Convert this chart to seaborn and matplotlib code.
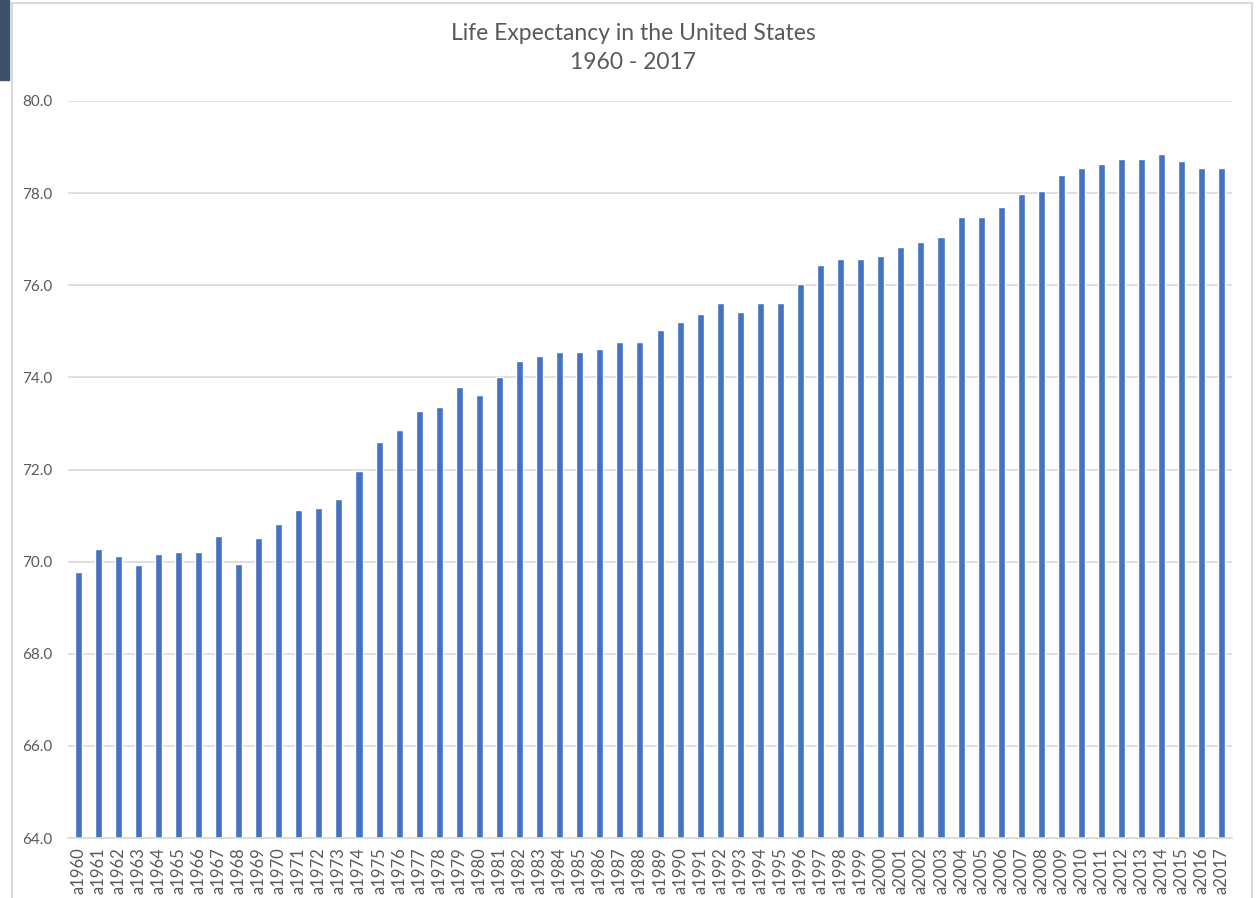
import numpy as np
import pandas as pd
import matplotlib.pyplot as plt
import matplotlib.patches as mpatches
import seaborn as sns

# yillar ve yasam beklentisi degerleri
yillar = ["a" + str(y) for y in range(1960, 2018)]
beklenti = [
    69.77, 70.27, 70.12, 69.92, 70.17, 70.21, 70.21, 70.56, 69.95, 70.51,
    70.81, 71.11, 71.16, 71.36, 71.96, 72.60, 72.86, 73.26, 73.36, 73.80,
    73.61, 74.01, 74.36, 74.46, 74.56, 74.56, 74.61, 74.77, 74.77, 75.02,
    75.21, 75.37, 75.62, 75.42, 75.62, 75.62, 76.03, 76.43, 76.58, 76.58,
    76.64, 76.84, 76.94, 77.04, 77.49, 77.49, 77.69, 77.99, 78.04, 78.39,
    78.54, 78.64, 78.74, 78.74, 78.84, 78.69, 78.54, 78.54,
]
y_ticks = [64.0, 66.0, 68.0, 70.0, 72.0, 74.0, 76.0, 78.0, 80.0]

df = pd.DataFrame({"yil": yillar, "deger": beklenti})

sns.set_theme(style="white")
plt.rcParams['font.family'] = ['Lato', 'DejaVu Sans']

fig = plt.figure(figsize=(12.59, 8.98), dpi=100)
ax = fig.add_axes([68 / 1259, 1 - 838 / 898, (1232 - 68) / 1259, (838 - 101) / 898])

sns.barplot(data=df, x="yil", y="deger", color="#4472C4", width=0.35,
            saturation=1, ax=ax)

ax.set_ylim(64, 80)
ax.set_xlim(-0.5, len(yillar) - 0.5)
ax.set_yticks(y_ticks)
ax.set_yticklabels([f"{t:.1f}" for t in y_ticks])
ax.yaxis.grid(True, color="#D9D9D9", linewidth=1.2)
ax.set_axisbelow(True)

for s in ["top", "right", "left"]:
    ax.spines[s].set_visible(False)
ax.spines["bottom"].set_color("#D9D9D9")
ax.spines["bottom"].set_linewidth(1.2)

ax.tick_params(axis="x", rotation=90, labelsize=12, colors="#595959", length=0, pad=7)
ax.tick_params(axis="y", labelsize=11, colors="#595959", length=0, pad=11)
ax.set_xlabel("")
ax.set_ylabel("")

fig.text(633 / 1259, 1 - 48 / 898, "Life Expectancy in the United States\n1960 - 2017",
         ha="center", va="center", fontsize=16.5, color="#595959", linespacing=1.45)

# grafik cercevesi ve sol ustteki koyu serit
fig.patches.append(mpatches.Rectangle((12 / 1259, -0.01), (1252 - 12) / 1259, 1 - 3 / 898 + 0.01,
                                      transform=fig.transFigure, fill=False,
                                      edgecolor="#D9D9D9", linewidth=1.5))
fig.patches.append(mpatches.Rectangle((0, 1 - 80 / 898), 9 / 1259, 80 / 898,
                                      transform=fig.transFigure, color="#3E5068"))

fig.savefig("out.png", dpi=100)
